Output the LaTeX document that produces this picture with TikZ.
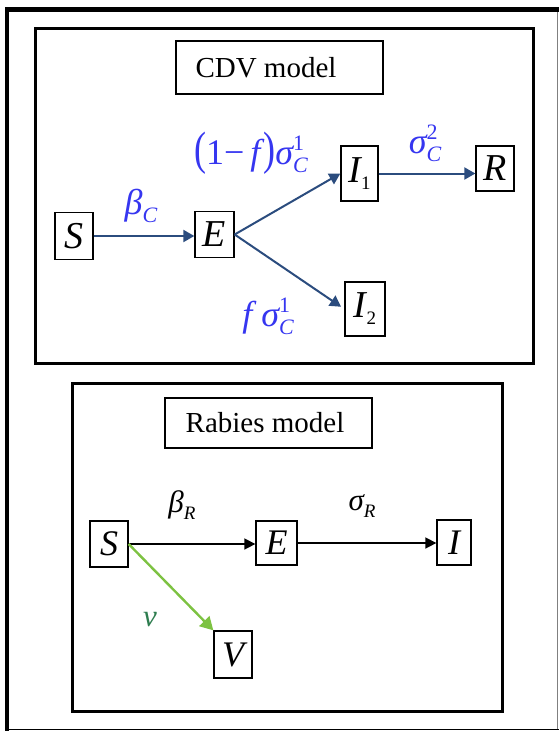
\documentclass[tikz,border=0pt]{standalone}
\usepackage{fontspec}
\setmainfont{Liberation Serif}
\usetikzlibrary{arrows.meta}
\definecolor{arrblue}{HTML}{2B4C7E}
\definecolor{labblue}{HTML}{3636F0}
\definecolor{vgreen}{HTML}{7DC242}
\definecolor{vdark}{HTML}{2E7D4F}
\newcommand{\SubSup}[2]{{\fontsize{22}{22}\selectfont\makebox[0pt][l]{\raisebox{14pt}{\upshape #2}}\raisebox{-8pt}{#1}}}
\newcommand{\Sub}[1]{{\fontsize{22}{22}\selectfont\raisebox{-8pt}{#1}}}
\newcommand{\SubS}[1]{{\fontsize{19}{19}\selectfont\raisebox{-7pt}{#1}}}
\begin{document}
\begin{tikzpicture}[x=1pt,y=-1pt,
  box/.style={draw, line width=1.3pt, inner sep=0pt, font=\fontsize{38}{38}\selectfont\itshape},
  rbox/.style={box, font=\fontsize{36}{36}\selectfont\itshape},
  titlebox/.style={draw, line width=1.3pt, inner sep=0pt, font=\fontsize{29}{29}\selectfont},
  panel/.style={draw, line width=3pt},
  bluearrow/.style={draw=arrblue, line width=2pt, -{Triangle[length=11pt,width=12pt]}},
  blackarrow/.style={draw=black, line width=1.6pt, -{Triangle[length=11pt,width=11pt]}},
  greenarrow/.style={draw=vgreen, line width=2.4pt, -{Triangle[length=13pt,width=14pt]}},
  bluelab/.style={text=labblue, inner sep=0pt, font=\fontsize{36}{36}\selectfont},
  blacklab/.style={text=black, inner sep=0pt, font=\fontsize{31}{31}\selectfont}]
\useasboundingbox (0,0) rectangle (559,731);
% outer frame
\fill[black] (5,7) rectangle (559,12);
\fill[black] (5,7) rectangle (9,731);
\draw[line width=1.5pt] (9,729.5) -- (559,729.5);
\draw[gray, line width=1pt] (557,12) -- (557,729);
% panels
\draw[panel] (35,28) rectangle (533,363);
\draw[panel] (72,383) rectangle (502,711);
% CDV
\node[titlebox, minimum width=207pt, minimum height=53pt] (t1) at (279.5,67.5) {\hspace*{-27pt}CDV model};
\node[box, minimum width=38pt, minimum height=47pt] (S) at (74,236) {S};
\node[box, minimum width=39pt, minimum height=46pt] (E) at (214.5,234.5) {E};
\node[box, minimum width=37pt, minimum height=55pt] (I1) at (359.5,173.5) {I\SubS{\upshape 1}};
\node[box, minimum width=38pt, minimum height=45pt] (R) at (495,168.5) {R};
\node[box, minimum width=40pt, minimum height=54pt] (I2) at (365,309) {I\SubS{\upshape 2}};
\draw[bluearrow] (S.east) -- (S.east -| E.west);
\draw[bluearrow] (E.east) -- (I1.west);
\draw[bluearrow, shorten >=4pt] (E.east) -- (I2.west);
\draw[bluearrow] (I1.east) -- (I1.east -| R.west);
\node[bluelab] (lb) at (141,206) {\itshape β\Sub{C}};
\node[bluelab] (lf) at (251,153) {\upshape\scalebox{1}[1.3]{(}1−\,\itshape f\hspace{3pt}\upshape\scalebox{1}[1.3]{)}\itshape σ\SubSup{C}{1}};
\node[bluelab] (ls2) at (425,143) {\itshape σ\SubSup{C}{2}};
\node[bluelab] (ls1) at (268,316) {\itshape f σ\SubSup{C}{1}};
% Rabies
\node[titlebox, minimum width=207pt, minimum height=50pt] (t2) at (268.5,423) {\hspace*{-7pt}Rabies model};
\node[rbox, minimum width=38pt, minimum height=46pt] (rS) at (109,544) {S};
\node[rbox, minimum width=41pt, minimum height=44pt] (rE) at (276.5,543) {E};
\node[rbox, minimum width=34pt, minimum height=45pt] (rI) at (454,542.5) {I};
\node[rbox, minimum width=38pt, minimum height=47pt] (rV) at (233,654.5) {V};
\draw[blackarrow] (rS.east) -- (rS.east -| rE.west);
\draw[blackarrow] (rE.east) -- (rE.east -| rI.west);
\draw[greenarrow] (rS.east) -- (rV.north west);
\node[blacklab] (lbr) at (182,505) {\itshape β\SubS{R}};
\node[blacklab] (lsr) at (362,506) {\itshape σ\SubS{R}};
\node[blacklab, text=vdark] (lv) at (150,620) {\itshape v};
\end{tikzpicture}
\end{document}
